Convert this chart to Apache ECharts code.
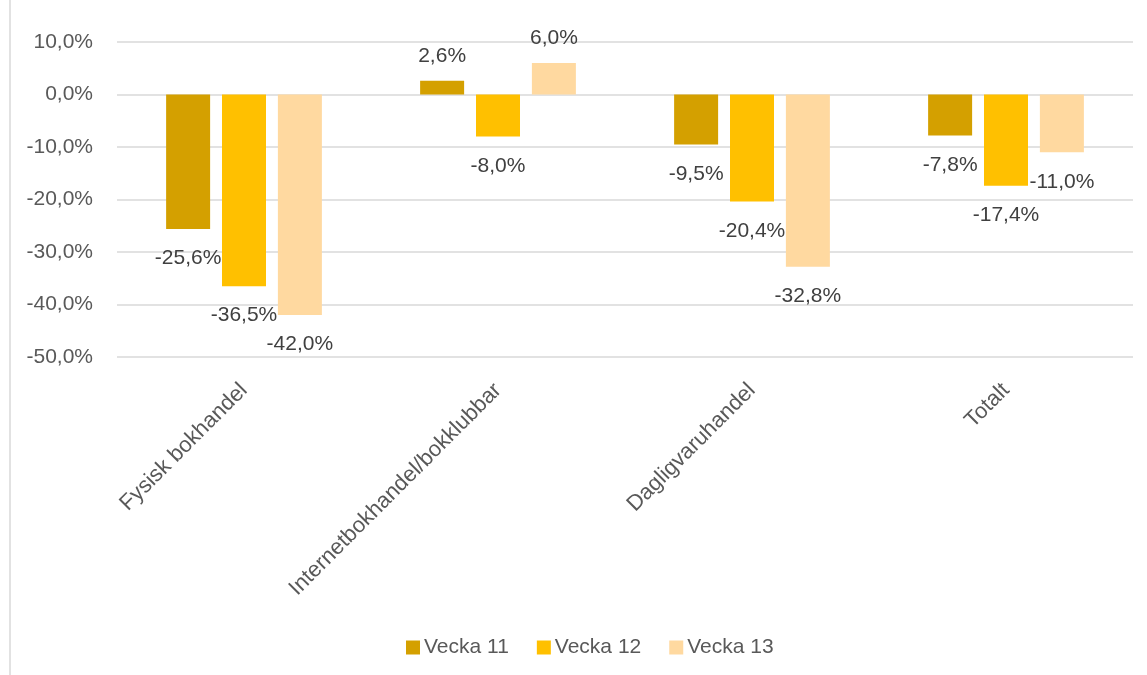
<!DOCTYPE html>
<html>
<head>
<meta charset="utf-8">
<script src="https://cdn.jsdelivr.net/npm/echarts@6/dist/echarts.min.js"></script>
<style>
html,body{margin:0;padding:0;background:#fff;}
#chart{width:1147px;height:675px;}
</style>
</head>
<body>
<div id="chart"></div>
<script>
const categories = ['Fysisk bokhandel', 'Internetbokhandel/bokklubbar', 'Dagligvaruhandel', 'Totalt'];
const seriesNames = ['Vecka 11', 'Vecka 12', 'Vecka 13'];
const vecka11 = [-25.6, 2.6, -9.5, -7.8];
const vecka12 = [-36.5, -8.0, -20.4, -17.4];
const vecka13 = [-42.0, 6.0, -32.8, -11.0];
const colors = ['#D4A000', '#FFC000', '#FFD9A0'];

const FONT = '"Liberation Sans", Arial, sans-serif';
const fmt = v => v.toFixed(1).replace('.', ',') + '%';

function makeData(arr) {
  return arr.map(v => ({
    value: v,
    label: v < 0 ? { position: 'bottom', distance: 19 } : { position: 'top', distance: 14 }
  }));
}

const allValues = [vecka11, vecka12, vecka13];

const chart = echarts.init(document.getElementById('chart'), null, { renderer: 'canvas' });
chart.setOption({
  animation: false,
  backgroundColor: '#ffffff',
  color: colors,
  grid: { left: 117, right: 14, top: 42, bottom: 318, containLabel: false },
  graphic: [{
    type: 'line',
    shape: { x1: 10, y1: 0, x2: 10, y2: 675 },
    style: { stroke: '#d9d9d9', lineWidth: 1.5 },
    silent: true
  }],
  legend: {
    data: seriesNames,
    left: 401,
    top: 632,
    icon: 'rect',
    itemWidth: 14,
    itemHeight: 14,
    itemGap: 28,
    textStyle: { fontFamily: FONT, fontSize: 21, color: '#595959', padding: [0, 0, 0, -1] }
  },
  xAxis: {
    type: 'category',
    data: categories,
    axisLine: { show: false, onZero: false },
    axisTick: { show: false },
    splitLine: { show: false },
    axisLabel: {
      interval: 0,
      rotate: 45,
      margin: 30,
      padding: [0, 0, 0, 0],
      fontFamily: FONT,
      fontSize: 22,
      color: '#595959'
    }
  },
  yAxis: {
    type: 'value',
    min: -50,
    max: 10,
    interval: 10,
    axisLine: { show: false },
    axisTick: { show: false },
    splitLine: { lineStyle: { color: '#d9d9d9', width: 1.5 } },
    axisLabel: {
      margin: 24,
      fontFamily: FONT,
      fontSize: 21,
      color: '#595959',
      formatter: v => fmt(v)
    }
  },
  series: seriesNames.map((name, i) => ({
    name: name,
    type: 'bar',
    data: makeData(allValues[i]),
    barWidth: 44,
    barGap: '27%',
    itemStyle: { color: colors[i] },
    label: {
      show: true,
      fontFamily: FONT,
      fontSize: 21,
      color: '#404040',
      formatter: p => fmt(p.value)
    }
  }))
});
</script>
</body>
</html>
